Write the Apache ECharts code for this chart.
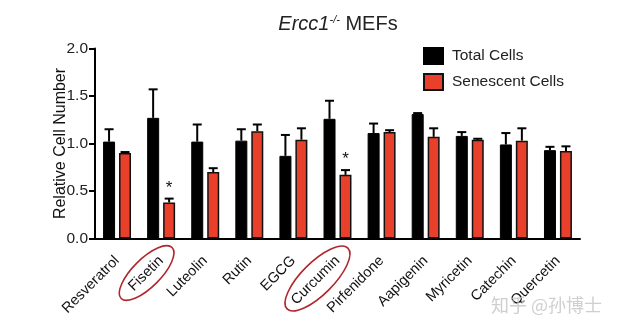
<!DOCTYPE html>
<html>
<head>
<meta charset="utf-8">
<script src="https://cdn.jsdelivr.net/npm/echarts@6/dist/echarts.min.js"></script>
<style>html,body{margin:0;padding:0;background:#fff;}#c{width:624px;height:333px;}</style>
</head>
<body>
<div id="c"></div>
<script>
const categories = ['Resveratrol','Fisetin','Luteolin','Rutin','EGCG','Curcumin','Pirfenidone','Aapigenin','Myricetin','Catechin','Quercetin'];
const totalCells = [1.02, 1.27, 1.02, 1.03, 0.87, 1.26, 1.11, 1.31, 1.08, 0.99, 0.93];
const totalErr = [0.13, 0.30, 0.18, 0.12, 0.22, 0.19, 0.10, 0.01, 0.04, 0.12, 0.035];
const senescentCells = [0.90, 0.38, 0.70, 1.13, 1.04, 0.67, 1.12, 1.07, 1.04, 1.03, 0.92];
const senescentErr = [0.01, 0.04, 0.04, 0.07, 0.12, 0.05, 0.02, 0.09, 0.01, 0.13, 0.05];
const senescentSig = ['', '*', '', '', '', '*', '', '', '', '', ''];
const circledLabels = ['Fisetin', 'Curcumin'];

const FONT = '"Liberation Sans", Arial, Helvetica, sans-serif';
const BAR_W = 12;
const HALF_SHIFT = 8;

function errRender(sign) {
  return function (params, api) {
    const i = api.value(0), v = api.value(1), e = api.value(2);
    const base = api.coord([i, v]);
    const top = api.coord([i, v + e]);
    const x = base[0] + sign * HALF_SHIFT;
    const sig = api.value(3);
    const children = [
      { type: 'line', shape: { x1: x, y1: base[1], x2: x, y2: top[1] }, style: { stroke: '#000', lineWidth: 2 } },
      { type: 'line', shape: { x1: x - 4.5, y1: top[1], x2: x + 4.5, y2: top[1] }, style: { stroke: '#000', lineWidth: 2 } }
    ];
    if (sig) {
      children.push({ type: 'text', style: { text: sig, x: x, y: top[1] - 2, align: 'center', verticalAlign: 'bottom', font: '17px ' + FONT, fill: '#111' } });
    }
    return { type: 'group', children: children };
  };
}

const chart = echarts.init(document.getElementById('c'), null, { renderer: 'canvas' });
chart.setOption({
  animation: false,
  backgroundColor: '#fff',
  textStyle: { fontFamily: FONT },
  title: {
    text: '{it|Ercc1}{sup|-/-}{n| MEFs}',
    left: 333, top: 9, textAlign: 'center',
    textStyle: {
      fontWeight: 'normal',
      rich: {
        it: { fontStyle: 'italic', fontWeight: 'normal', fontSize: 20, color: '#222', fontFamily: FONT },
        sup: { fontStyle: 'italic', fontWeight: 'normal', fontSize: 11, color: '#222', fontFamily: FONT, verticalAlign: 'top', padding: [0, 0, 9, 0] },
        n: { fontWeight: 'normal', fontSize: 20, color: '#222', fontFamily: FONT }
      }
    }
  },
  legend: {
    orient: 'vertical', left: 423, top: 47, padding: 0, itemWidth: 19, itemHeight: 16, itemGap: 8,
    icon: 'rect',
    textStyle: { fontSize: 15.5, color: '#222', fontFamily: FONT, padding: [0, 0, 0, 4] },
    data: ['Total Cells', 'Senescent Cells']
  },
  grid: { left: 95, right: 44, top: 48.5, bottom: 94.5, containLabel: false },
  xAxis: {
    type: 'category', data: categories,
    axisLine: { lineStyle: { color: '#000', width: 2 } },
    axisTick: { alignWithLabel: true, length: 6, lineStyle: { color: '#000', width: 2 } },
    axisLabel: { rotate: 45, fontSize: 14.5, color: '#111', margin: 20, interval: 0, fontFamily: FONT }
  },
  yAxis: {
    type: 'value', min: 0, max: 2, interval: 0.5,
    name: 'Relative Cell Number', nameLocation: 'middle', nameGap: 26, nameRotate: 90,
    nameMoveOverlap: false,
    nameTextStyle: { fontSize: 16, color: '#111', fontFamily: FONT },
    axisLine: { show: true, lineStyle: { color: '#000', width: 2 } },
    axisTick: { show: true, length: 6, lineStyle: { color: '#000', width: 2 } },
    axisLabel: { fontSize: 15.5, color: '#222', margin: 7, formatter: v => v.toFixed(1), fontFamily: FONT },
    splitLine: { show: false }
  },
  series: [
    { name: 'Total Cells', type: 'bar', data: totalCells, barWidth: BAR_W, barGap: '33%',
      itemStyle: { color: '#000', borderColor: '#000', borderWidth: 1 } },
    { name: 'Senescent Cells', type: 'bar', data: senescentCells, barWidth: BAR_W, barGap: '33%',
      itemStyle: { color: '#e8402a', borderColor: '#111', borderWidth: 1.5 } },
    { name: 'totErr', type: 'custom', renderItem: errRender(-1), z: 5, silent: true,
      data: categories.map((c, i) => [i, totalCells[i], totalErr[i], '']) },
    { name: 'senErr', type: 'custom', renderItem: errRender(1), z: 5, silent: true,
      data: categories.map((c, i) => [i, senescentCells[i], senescentErr[i], senescentSig[i]]) }
  ]
});

// annotation ellipses around the highlighted axis labels
const ellipseStyle = {
  Fisetin: { dx: -14.5, dy: 34.5, a: 36, b: 14 },
  Curcumin: { dx: -20, dy: 40, a: 43, b: 16 }
};
const y0 = chart.convertToPixel({ yAxisIndex: 0 }, 0);
const graphics = circledLabels.map(name => {
  const cx = chart.convertToPixel({ xAxisIndex: 0 }, name);
  const s = ellipseStyle[name];
  return {
    type: 'ellipse', x: cx + s.dx, y: y0 + s.dy, rotation: Math.PI / 4,
    shape: { cx: 0, cy: 0, rx: s.a, ry: s.b },
    style: { fill: 'none', stroke: '#b0262c', lineWidth: 1.6 }, z: 10
  };
});
graphics.push({
  type: 'text', left: 491, top: 296, z: 20,
  style: { text: '知乎 @孙博士', font: '18px "Noto Sans CJK SC"', fill: 'rgba(195,195,195,0.8)' }
});
chart.setOption({ graphic: graphics });
</script>
</body>
</html>
